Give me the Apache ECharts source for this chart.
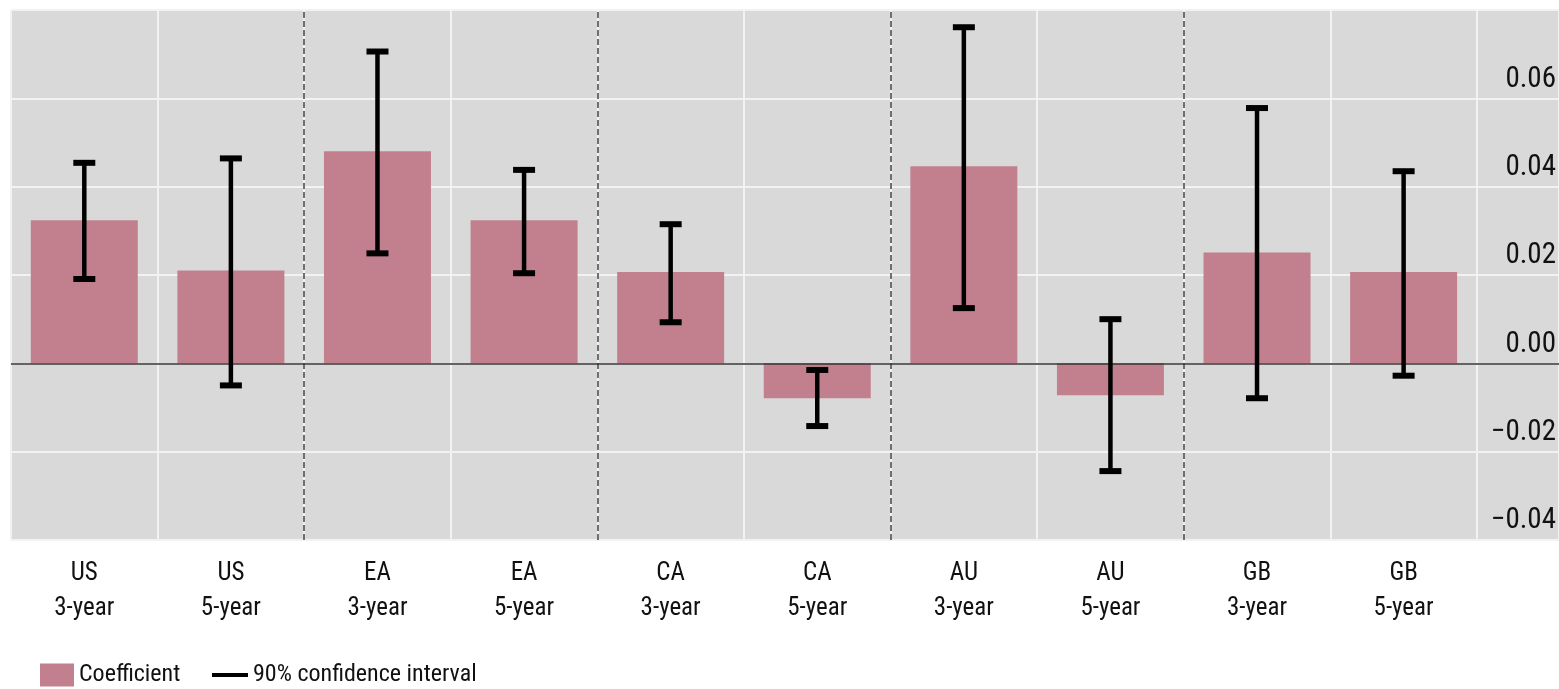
<!DOCTYPE html>
<html>
<head>
<meta charset="utf-8">
<script src="https://cdn.jsdelivr.net/npm/echarts@6/dist/echarts.min.js"></script>
<style>html,body{margin:0;padding:0;background:#fff;}#c{width:1559px;height:689px;}</style>
</head>
<body>
<div id="c"></div>
<script>
const countries = ['US','US','EA','EA','CA','CA','AU','AU','GB','GB'];
const tenors = ['3-year','5-year','3-year','5-year','3-year','5-year','3-year','5-year','3-year','5-year'];
const coefficient = [0.0324, 0.0210, 0.0480, 0.0324, 0.0207, -0.0079, 0.0446, -0.0072, 0.0251, 0.0207];
const ciLow  = [0.0191, -0.0050, 0.0249, 0.0204, 0.0093, -0.0142, 0.0125, -0.0244, -0.0079, -0.0028];
const ciHigh = [0.0454, 0.0464, 0.0706, 0.0438, 0.0315, -0.0015, 0.0761, 0.0100, 0.0578, 0.0435];
const yTicks = [-0.04, -0.02, 0.00, 0.02, 0.04, 0.06, 0.08];
const groupBreaks = [2, 4, 6, 8];

const FONT = "'Roboto Condensed', 'DejaVu Sans Condensed', sans-serif";
const labels = countries.map((c, i) => c + '\n' + tenors[i]);
const barData = coefficient.map((v, i) => [i + 0.5, v]);
const ciData = ciLow.map((lo, i) => [i + 0.5, lo, ciHigh[i]]);

const chart = echarts.init(document.getElementById('c'), null, {renderer: 'canvas'});
chart.setOption({
  animation: false,
  grid: {left: 11, right: 0, top: 10, bottom: 149, show: true, backgroundColor: '#d9d9d9', borderWidth: 0},
  legend: [
    {data: [{name: 'Coefficient', icon: 'rect'}], left: 35, top: 658, itemWidth: 34, itemHeight: 23, itemGap: 10,
     textStyle: {fontFamily: FONT, fontSize: 24, color: '#111'}, selectedMode: false},
    {data: [{name: '90% confidence interval', icon: 'rect', itemStyle: {color: '#000'}}], left: 207, top: 658, itemWidth: 36, itemHeight: 4,
     textStyle: {fontFamily: FONT, fontSize: 24, color: '#111'}, selectedMode: false}
  ],
  xAxis: {
    type: 'value', min: 0, max: 10.56, interval: 1,
    axisLine: {show: false}, axisTick: {show: false},
    splitLine: {show: true, lineStyle: {color: '#f2f2f2', width: 2}},
    axisLabel: {
      customValues: labels.map((_, i) => i + 0.5),
      formatter: v => labels[Math.floor(v)] || '',
      fontFamily: FONT, fontSize: 25, lineHeight: 35, color: '#111', margin: 16
    }
  },
  yAxis: {
    type: 'value', position: 'right', min: yTicks[0], max: yTicks[yTicks.length - 1], interval: 0.02,
    axisLine: {show: false}, axisTick: {show: false},
    splitLine: {show: true, lineStyle: {color: '#f2f2f2', width: 2}},
    axisLabel: {
      inside: true, margin: 3, showMaxLabel: false, verticalAlign: 'bottom', padding: [0, 0, 4, 0],
      fontFamily: FONT, fontSize: 29, lineHeight: 30, color: '#111',
      formatter: v => v.toFixed(2).replace('-', '\u2212')
    }
  },
  series: [
    {
      name: 'Coefficient', type: 'bar', data: barData, barWidth: 107,
      itemStyle: {color: '#c2808f'},
      markLine: {
        silent: true, symbol: 'none', label: {show: false}, animation: false,
        data: [
          ...groupBreaks.map(b => ({xAxis: b, lineStyle: {type: [6, 3], color: '#444', width: 1.5}})),
          {yAxis: 0, lineStyle: {type: 'solid', color: '#333', width: 1.5}}
        ]
      }
    },
    {
      name: '90% confidence interval', type: 'custom', data: ciData,
      itemStyle: {color: '#000'}, z: 5,
      renderItem: (params, api) => {
        const x = api.value(0);
        const pLo = api.coord([x, api.value(1)]);
        const pHi = api.coord([x, api.value(2)]);
        const capW = 22, capH = 6;
        return {
          type: 'group',
          children: [
            {type: 'line', shape: {x1: pLo[0], y1: pLo[1], x2: pHi[0], y2: pHi[1]}, style: {stroke: '#000', lineWidth: 4.5}},
            {type: 'rect', shape: {x: pHi[0] - capW / 2, y: pHi[1] - capH / 2, width: capW, height: capH}, style: {fill: '#000'}},
            {type: 'rect', shape: {x: pLo[0] - capW / 2, y: pLo[1] - capH / 2, width: capW, height: capH}, style: {fill: '#000'}}
          ]
        };
      }
    }
  ]
});
</script>
</body>
</html>
